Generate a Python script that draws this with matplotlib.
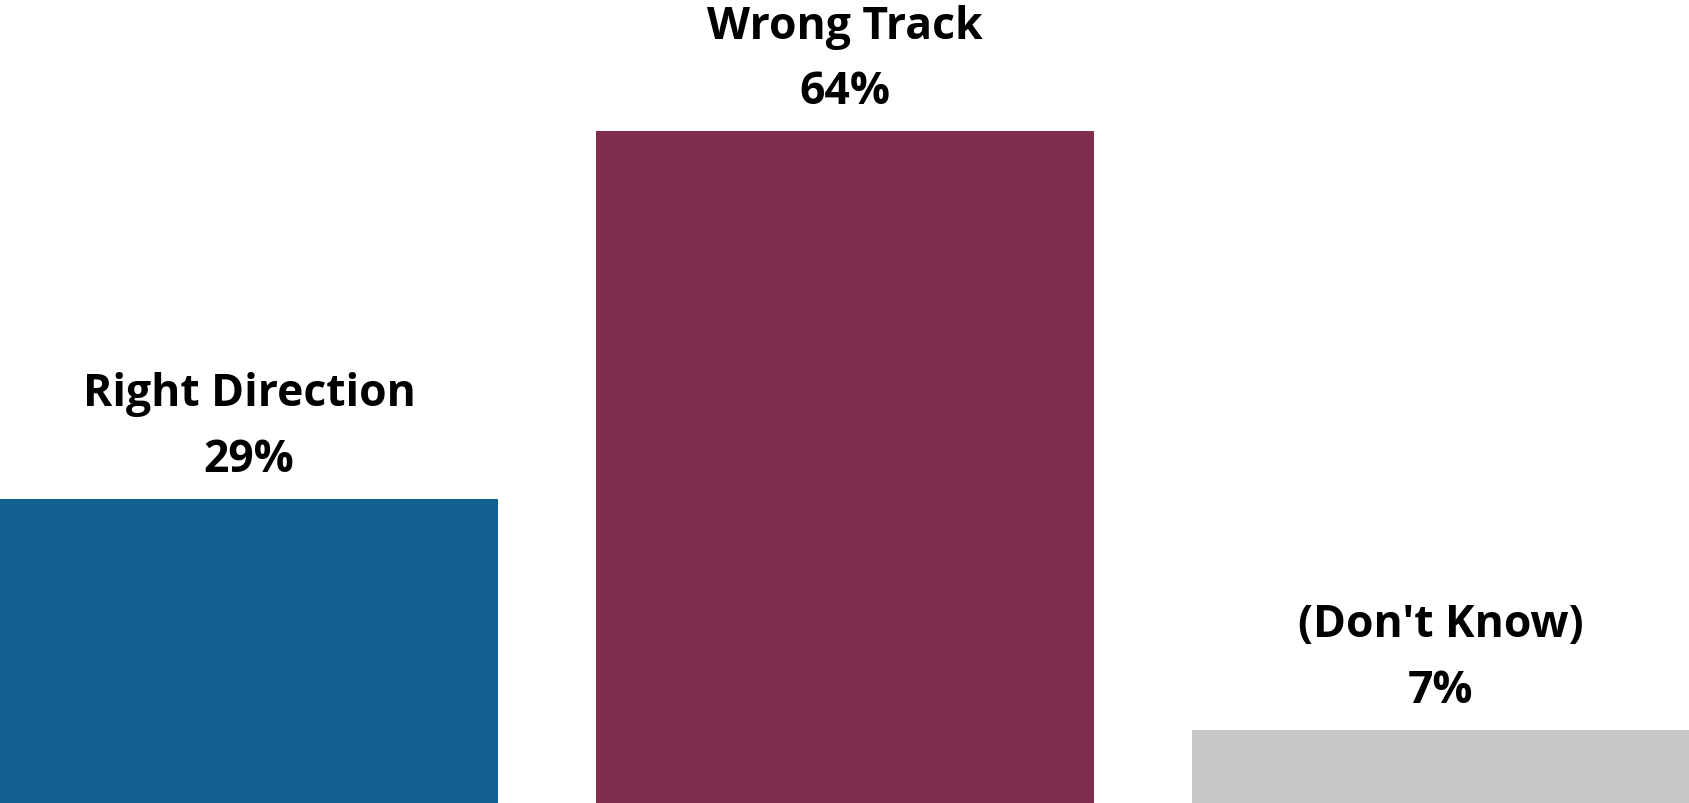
import matplotlib.pyplot as plt

categories = ["Right Direction", "Wrong Track", "(Don't Know)"]
values = [29, 64, 7]
colors = ["#135F90", "#7F2F4D", "#C6C6C6"]

plt.rcParams['font.family'] = ['Liberation Sans Narrow', 'Open Sans', 'DejaVu Sans']

fig = plt.figure(figsize=(16.9, 8.04), dpi=100)
ax = fig.add_axes([0, 0, 1, 1])

width = 0.836
x = list(range(len(values)))
ax.bar(x, values, width=width, color=colors)

for xi, cat, v in zip(x, categories, values):
    # value just above the bar, category one line higher
    ax.annotate(f"{v}%", (xi, v), xytext=(0, 20), textcoords='offset points',
                ha='center', va='baseline', fontsize=32, fontweight='bold')
    ax.annotate(cat, (xi, v), xytext=(0, 67), textcoords='offset points',
                ha='center', va='baseline', fontsize=32, fontweight='bold')

ax.set_xlim(-width / 2, len(values) - 1 + width / 2)
ax.set_ylim(0, 804 / 10.5)
ax.axis('off')

fig.savefig('out.png', dpi=100)
